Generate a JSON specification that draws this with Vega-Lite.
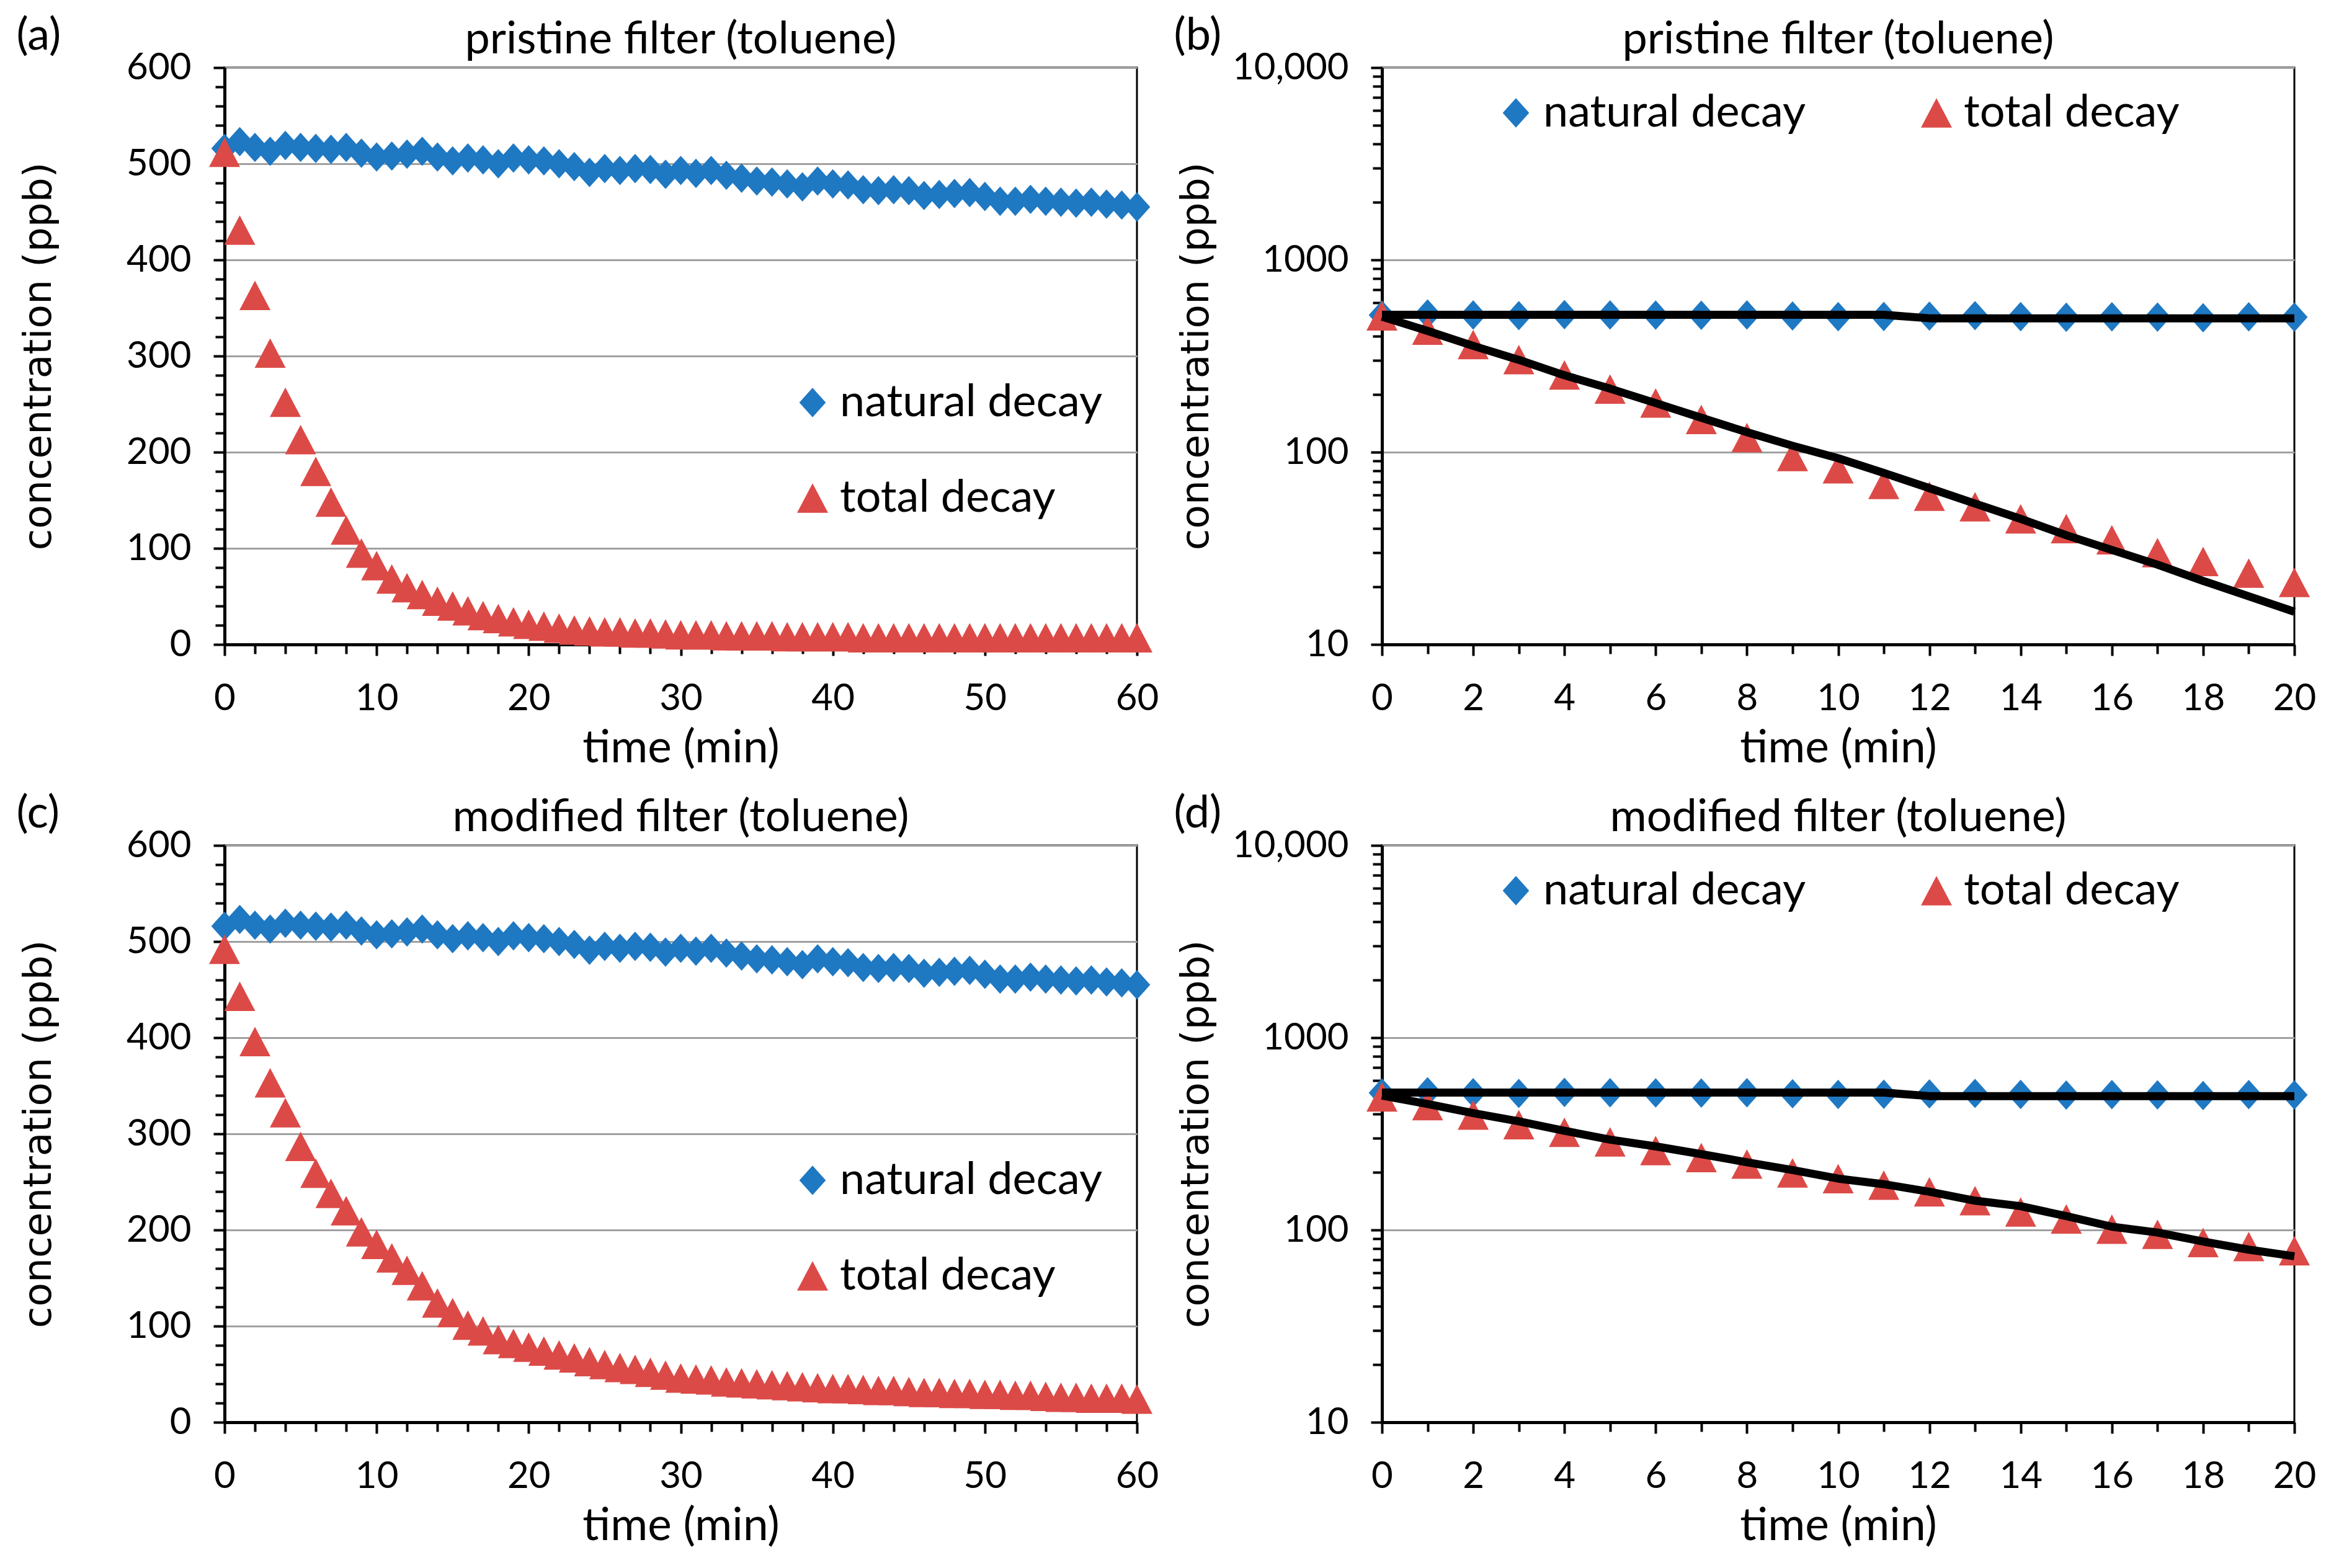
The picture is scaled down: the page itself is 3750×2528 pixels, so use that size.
{
  "$schema": "https://vega.github.io/schema/vega-lite/v6.json",
  "background": "white",
  "padding": {"left": 24, "top": 19, "right": 10, "bottom": 10},
  "datasets": {
    "pristine": [
      {"t":0,"series":"natural decay","c":516},{"t":1,"series":"natural decay","c":523},{"t":2,"series":"natural decay","c":517},{"t":3,"series":"natural decay","c":513},{"t":4,"series":"natural decay","c":519},{"t":5,"series":"natural decay","c":517},{"t":6,"series":"natural decay","c":516},{"t":7,"series":"natural decay","c":515},{"t":8,"series":"natural decay","c":517},{"t":9,"series":"natural decay","c":511},{"t":10,"series":"natural decay","c":507},{"t":11,"series":"natural decay","c":508},{"t":12,"series":"natural decay","c":510},{"t":13,"series":"natural decay","c":513},{"t":14,"series":"natural decay","c":507},{"t":15,"series":"natural decay","c":503},{"t":16,"series":"natural decay","c":506},{"t":17,"series":"natural decay","c":504},{"t":18,"series":"natural decay","c":500},{"t":19,"series":"natural decay","c":506},{"t":20,"series":"natural decay","c":504},{"t":21,"series":"natural decay","c":503},{"t":22,"series":"natural decay","c":500},{"t":23,"series":"natural decay","c":497},{"t":24,"series":"natural decay","c":491},{"t":25,"series":"natural decay","c":495},{"t":26,"series":"natural decay","c":493},{"t":27,"series":"natural decay","c":495},{"t":28,"series":"natural decay","c":494},{"t":29,"series":"natural decay","c":489},{"t":30,"series":"natural decay","c":493},{"t":31,"series":"natural decay","c":490},{"t":32,"series":"natural decay","c":493},{"t":33,"series":"natural decay","c":488},{"t":34,"series":"natural decay","c":485},{"t":35,"series":"natural decay","c":482},{"t":36,"series":"natural decay","c":481},{"t":37,"series":"natural decay","c":479},{"t":38,"series":"natural decay","c":476},{"t":39,"series":"natural decay","c":482},{"t":40,"series":"natural decay","c":479},{"t":41,"series":"natural decay","c":478},{"t":42,"series":"natural decay","c":473},{"t":43,"series":"natural decay","c":472},{"t":44,"series":"natural decay","c":473},{"t":45,"series":"natural decay","c":472},{"t":46,"series":"natural decay","c":467},{"t":47,"series":"natural decay","c":468},{"t":48,"series":"natural decay","c":469},{"t":49,"series":"natural decay","c":470},{"t":50,"series":"natural decay","c":466},{"t":51,"series":"natural decay","c":461},{"t":52,"series":"natural decay","c":461},{"t":53,"series":"natural decay","c":463},{"t":54,"series":"natural decay","c":461},{"t":55,"series":"natural decay","c":460},{"t":56,"series":"natural decay","c":459},{"t":57,"series":"natural decay","c":460},{"t":58,"series":"natural decay","c":458},{"t":59,"series":"natural decay","c":457},{"t":60,"series":"natural decay","c":455},
      {"t":0,"series":"total decay","c":512},{"t":1,"series":"total decay","c":431},{"t":2,"series":"total decay","c":363},{"t":3,"series":"total decay","c":303},{"t":4,"series":"total decay","c":252},{"t":5,"series":"total decay","c":213},{"t":6,"series":"total decay","c":180},{"t":7,"series":"total decay","c":148},{"t":8,"series":"total decay","c":119},{"t":9,"series":"total decay","c":95},{"t":10,"series":"total decay","c":82},{"t":11,"series":"total decay","c":68},{"t":12,"series":"total decay","c":59},{"t":13,"series":"total decay","c":52},{"t":14,"series":"total decay","c":45},{"t":15,"series":"total decay","c":40},{"t":16,"series":"total decay","c":35},{"t":17,"series":"total decay","c":30},{"t":18,"series":"total decay","c":27},{"t":19,"series":"total decay","c":23.5},{"t":20,"series":"total decay","c":21},{"t":21,"series":"total decay","c":19},{"t":22,"series":"total decay","c":17},{"t":23,"series":"total decay","c":15},{"t":24,"series":"total decay","c":14},{"t":25,"series":"total decay","c":13},{"t":26,"series":"total decay","c":13},{"t":27,"series":"total decay","c":12},{"t":28,"series":"total decay","c":12},{"t":29,"series":"total decay","c":11},{"t":30,"series":"total decay","c":10},{"t":31,"series":"total decay","c":10},{"t":32,"series":"total decay","c":10},{"t":33,"series":"total decay","c":9},{"t":34,"series":"total decay","c":9},{"t":35,"series":"total decay","c":9},{"t":36,"series":"total decay","c":9},{"t":37,"series":"total decay","c":8},{"t":38,"series":"total decay","c":8},{"t":39,"series":"total decay","c":8},{"t":40,"series":"total decay","c":8},{"t":41,"series":"total decay","c":8},{"t":42,"series":"total decay","c":7},{"t":43,"series":"total decay","c":7},{"t":44,"series":"total decay","c":7},{"t":45,"series":"total decay","c":7},{"t":46,"series":"total decay","c":7},{"t":47,"series":"total decay","c":7},{"t":48,"series":"total decay","c":7},{"t":49,"series":"total decay","c":7},{"t":50,"series":"total decay","c":7},{"t":51,"series":"total decay","c":7},{"t":52,"series":"total decay","c":7},{"t":53,"series":"total decay","c":7},{"t":54,"series":"total decay","c":7},{"t":55,"series":"total decay","c":7},{"t":56,"series":"total decay","c":7},{"t":57,"series":"total decay","c":7},{"t":58,"series":"total decay","c":7},{"t":59,"series":"total decay","c":7},{"t":60,"series":"total decay","c":7}
    ],
    "modified": [
      {"t":0,"series":"natural decay","c":516},{"t":1,"series":"natural decay","c":523},{"t":2,"series":"natural decay","c":517},{"t":3,"series":"natural decay","c":513},{"t":4,"series":"natural decay","c":519},{"t":5,"series":"natural decay","c":517},{"t":6,"series":"natural decay","c":516},{"t":7,"series":"natural decay","c":515},{"t":8,"series":"natural decay","c":517},{"t":9,"series":"natural decay","c":511},{"t":10,"series":"natural decay","c":507},{"t":11,"series":"natural decay","c":508},{"t":12,"series":"natural decay","c":510},{"t":13,"series":"natural decay","c":513},{"t":14,"series":"natural decay","c":507},{"t":15,"series":"natural decay","c":503},{"t":16,"series":"natural decay","c":506},{"t":17,"series":"natural decay","c":504},{"t":18,"series":"natural decay","c":500},{"t":19,"series":"natural decay","c":506},{"t":20,"series":"natural decay","c":504},{"t":21,"series":"natural decay","c":503},{"t":22,"series":"natural decay","c":500},{"t":23,"series":"natural decay","c":497},{"t":24,"series":"natural decay","c":491},{"t":25,"series":"natural decay","c":495},{"t":26,"series":"natural decay","c":493},{"t":27,"series":"natural decay","c":495},{"t":28,"series":"natural decay","c":494},{"t":29,"series":"natural decay","c":489},{"t":30,"series":"natural decay","c":493},{"t":31,"series":"natural decay","c":490},{"t":32,"series":"natural decay","c":493},{"t":33,"series":"natural decay","c":488},{"t":34,"series":"natural decay","c":485},{"t":35,"series":"natural decay","c":482},{"t":36,"series":"natural decay","c":481},{"t":37,"series":"natural decay","c":479},{"t":38,"series":"natural decay","c":476},{"t":39,"series":"natural decay","c":482},{"t":40,"series":"natural decay","c":479},{"t":41,"series":"natural decay","c":478},{"t":42,"series":"natural decay","c":473},{"t":43,"series":"natural decay","c":472},{"t":44,"series":"natural decay","c":473},{"t":45,"series":"natural decay","c":472},{"t":46,"series":"natural decay","c":467},{"t":47,"series":"natural decay","c":468},{"t":48,"series":"natural decay","c":469},{"t":49,"series":"natural decay","c":470},{"t":50,"series":"natural decay","c":466},{"t":51,"series":"natural decay","c":461},{"t":52,"series":"natural decay","c":461},{"t":53,"series":"natural decay","c":463},{"t":54,"series":"natural decay","c":461},{"t":55,"series":"natural decay","c":460},{"t":56,"series":"natural decay","c":459},{"t":57,"series":"natural decay","c":460},{"t":58,"series":"natural decay","c":458},{"t":59,"series":"natural decay","c":457},{"t":60,"series":"natural decay","c":455},
      {"t":0,"series":"total decay","c":492},{"t":1,"series":"total decay","c":443},{"t":2,"series":"total decay","c":396},{"t":3,"series":"total decay","c":353},{"t":4,"series":"total decay","c":322},{"t":5,"series":"total decay","c":287},{"t":6,"series":"total decay","c":259},{"t":7,"series":"total decay","c":238},{"t":8,"series":"total decay","c":220},{"t":9,"series":"total decay","c":198},{"t":10,"series":"total decay","c":185},{"t":11,"series":"total decay","c":171},{"t":12,"series":"total decay","c":158},{"t":13,"series":"total decay","c":142},{"t":14,"series":"total decay","c":124},{"t":15,"series":"total decay","c":114},{"t":16,"series":"total decay","c":101},{"t":17,"series":"total decay","c":95},{"t":18,"series":"total decay","c":86},{"t":19,"series":"total decay","c":82},{"t":20,"series":"total decay","c":78},{"t":21,"series":"total decay","c":74},{"t":22,"series":"total decay","c":70},{"t":23,"series":"total decay","c":67},{"t":24,"series":"total decay","c":63},{"t":25,"series":"total decay","c":60},{"t":26,"series":"total decay","c":57},{"t":27,"series":"total decay","c":55},{"t":28,"series":"total decay","c":52},{"t":29,"series":"total decay","c":49},{"t":30,"series":"total decay","c":46},{"t":31,"series":"total decay","c":45},{"t":32,"series":"total decay","c":44},{"t":33,"series":"total decay","c":42},{"t":34,"series":"total decay","c":41},{"t":35,"series":"total decay","c":40},{"t":36,"series":"total decay","c":39},{"t":37,"series":"total decay","c":38},{"t":38,"series":"total decay","c":37},{"t":39,"series":"total decay","c":36},{"t":40,"series":"total decay","c":35},{"t":41,"series":"total decay","c":35},{"t":42,"series":"total decay","c":34},{"t":43,"series":"total decay","c":33},{"t":44,"series":"total decay","c":33},{"t":45,"series":"total decay","c":32},{"t":46,"series":"total decay","c":31},{"t":47,"series":"total decay","c":31},{"t":48,"series":"total decay","c":30},{"t":49,"series":"total decay","c":30},{"t":50,"series":"total decay","c":29},{"t":51,"series":"total decay","c":29},{"t":52,"series":"total decay","c":28},{"t":53,"series":"total decay","c":28},{"t":54,"series":"total decay","c":27},{"t":55,"series":"total decay","c":26},{"t":56,"series":"total decay","c":26},{"t":57,"series":"total decay","c":25},{"t":58,"series":"total decay","c":25},{"t":59,"series":"total decay","c":25},{"t":60,"series":"total decay","c":24}
    ],
    "fitB": [
      {"t":0,"series":"nat","c":518},{"t":1,"series":"nat","c":518},{"t":2,"series":"nat","c":518},{"t":3,"series":"nat","c":518},{"t":4,"series":"nat","c":518},{"t":5,"series":"nat","c":518},{"t":6,"series":"nat","c":518},{"t":7,"series":"nat","c":518},{"t":8,"series":"nat","c":518},{"t":9,"series":"nat","c":518},{"t":10,"series":"nat","c":518},{"t":11,"series":"nat","c":518},{"t":12,"series":"nat","c":497},{"t":13,"series":"nat","c":497},{"t":14,"series":"nat","c":497},{"t":15,"series":"nat","c":497},{"t":16,"series":"nat","c":497},{"t":17,"series":"nat","c":497},{"t":18,"series":"nat","c":497},{"t":19,"series":"nat","c":497},{"t":20,"series":"nat","c":497},
      {"t":0,"series":"tot","c":507},{"t":1,"series":"tot","c":427},{"t":2,"series":"tot","c":357},{"t":3,"series":"tot","c":302},{"t":4,"series":"tot","c":251},{"t":5,"series":"tot","c":214},{"t":6,"series":"tot","c":180},{"t":7,"series":"tot","c":151},{"t":8,"series":"tot","c":127},{"t":9,"series":"tot","c":108},{"t":10,"series":"tot","c":93},{"t":11,"series":"tot","c":78},{"t":12,"series":"tot","c":65},{"t":13,"series":"tot","c":54},{"t":14,"series":"tot","c":45},{"t":15,"series":"tot","c":37},{"t":16,"series":"tot","c":31},{"t":17,"series":"tot","c":26},{"t":18,"series":"tot","c":21.4},{"t":19,"series":"tot","c":17.8},{"t":20,"series":"tot","c":14.8}
    ],
    "fitD": [
      {"t":0,"series":"nat","c":518},{"t":1,"series":"nat","c":518},{"t":2,"series":"nat","c":518},{"t":3,"series":"nat","c":518},{"t":4,"series":"nat","c":518},{"t":5,"series":"nat","c":518},{"t":6,"series":"nat","c":518},{"t":7,"series":"nat","c":518},{"t":8,"series":"nat","c":518},{"t":9,"series":"nat","c":518},{"t":10,"series":"nat","c":518},{"t":11,"series":"nat","c":518},{"t":12,"series":"nat","c":497},{"t":13,"series":"nat","c":497},{"t":14,"series":"nat","c":497},{"t":15,"series":"nat","c":497},{"t":16,"series":"nat","c":497},{"t":17,"series":"nat","c":497},{"t":18,"series":"nat","c":497},{"t":19,"series":"nat","c":497},{"t":20,"series":"nat","c":497},
      {"t":0,"series":"tot","c":500},{"t":1,"series":"tot","c":452},{"t":2,"series":"tot","c":405},{"t":3,"series":"tot","c":367},{"t":4,"series":"tot","c":328},{"t":5,"series":"tot","c":295},{"t":6,"series":"tot","c":272},{"t":7,"series":"tot","c":248},{"t":8,"series":"tot","c":225},{"t":9,"series":"tot","c":205},{"t":10,"series":"tot","c":185},{"t":11,"series":"tot","c":173},{"t":12,"series":"tot","c":158},{"t":13,"series":"tot","c":142},{"t":14,"series":"tot","c":133},{"t":15,"series":"tot","c":118},{"t":16,"series":"tot","c":104},{"t":17,"series":"tot","c":97},{"t":18,"series":"tot","c":87},{"t":19,"series":"tot","c":79},{"t":20,"series":"tot","c":73}
    ]
  },
  "spacing": 28,
  "resolve": {"scale": {"color": "independent", "shape": "independent", "size": "independent"}},
  "vconcat": [
    {
      "spacing": 20,
      "resolve": {"scale": {"color": "independent", "shape": "independent", "size": "independent"}},
      "hconcat": [
        {
          "width": 1471, "height": 930,
          "data": {"name": "pristine"},
          "layer": [
            {
              "mark": {"type": "point", "filled": true, "opacity": 1, "strokeWidth": 0},
              "encoding": {
                "x": {"field": "t", "type": "quantitative", "scale": {"domain": [0, 60], "nice": false}, "axis": {"orient": "bottom", "values": [0, 10, 20, 30, 40, 50, 60], "title": "time (min)", "grid": false}},
                "y": {"field": "c", "type": "quantitative", "scale": {"domain": [0, 600], "nice": false}, "axis": {"orient": "left", "values": [0, 100, 200, 300, 400, 500, 600], "grid": true, "title": "concentration (ppb)", "titleX": -268, "titleY": 465, "titleAngle": -90, "titleBaseline": "bottom", "titleAlign": "center"}},
                "shape": {"field": "series", "type": "nominal", "scale": {"domain": ["natural decay", "total decay"], "range": ["M0,-1L0.9,0L0,1L-0.9,0Z", "M0,-0.95L1,0.95L-1,0.95Z"]}, "legend": {"orient": "none", "legendX": 912, "legendY": 504, "direction": "vertical", "rowPadding": 82}},
                "color": {"field": "series", "type": "nominal", "scale": {"domain": ["natural decay", "total decay"], "range": ["#1F78C2", "#DC4A47"]}, "legend": {"orient": "none", "legendX": 912, "legendY": 504, "direction": "vertical", "rowPadding": 82}},
                "size": {"field": "series", "type": "ordinal", "scale": {"domain": ["natural decay", "total decay"], "range": [2250, 2500]}, "legend": null}
              }
            },
            {
              "mark": {"type": "point", "opacity": 0},
              "encoding": {
                "x": {"field": "t", "type": "quantitative", "axis": {"orient": "bottom", "values": [2,4,6,8,12,14,16,18,22,24,26,28,32,34,36,38,42,44,46,48,52,54,56,58], "labels": false, "domain": false, "grid": false, "title": null, "tickSize": 15}},
                "y": {"field": "c", "type": "quantitative", "axis": {"orient": "left", "values": [20,40,60,80,120,140,160,180,220,240,260,280,320,340,360,380,420,440,460,480,520,540,560,580], "labels": false, "domain": false, "grid": false, "title": null, "tickSize": 15}}
              }
            },
            {
              "mark": {"type": "point", "opacity": 0},
              "encoding": {
                "x": {"field": "t", "type": "quantitative", "axis": {"orient": "top", "labels": false, "ticks": false, "domain": false, "grid": false, "title": "pristine filter (toluene)", "titleX": 735, "titleY": -46, "titleAlign": "center", "titleBaseline": "middle", "titleAngle": 0, "titleFont": "Lato", "titleFontSize": 72}},
                "y": {"field": "c", "type": "quantitative", "axis": {"orient": "right", "labels": false, "ticks": false, "domain": false, "grid": false, "title": "(a)", "titleX": -1807, "titleY": -52, "titleAlign": "left", "titleBaseline": "middle", "titleAngle": 0, "titleFont": "Lato", "titleFontSize": 72}}
              }
            }
          ],
          "resolve": {"axis": {"x": "independent", "y": "independent"}}
        },
        {
          "width": 1471, "height": 930,
          "layer": [
            {
              "data": {"name": "pristine"},
              "transform": [{"filter": "datum.t <= 20"}],
              "mark": {"type": "point", "filled": true, "opacity": 1, "strokeWidth": 0},
              "encoding": {
                "x": {"field": "t", "type": "quantitative", "scale": {"domain": [0, 20], "nice": false}, "axis": {"orient": "bottom", "values": [0,2,4,6,8,10,12,14,16,18,20], "title": "time (min)", "grid": false}},
                "y": {"field": "c", "type": "quantitative", "scale": {"type": "log", "domain": [10, 10000], "nice": false}, "axis": {"orient": "left", "values": [10, 100, 1000, 10000], "labelExpr": "datum.value >= 10000 ? format(datum.value, ',') : format(datum.value, 'd')", "grid": true, "title": "concentration (ppb)", "titleX": -268, "titleY": 465, "titleAngle": -90, "titleBaseline": "bottom", "titleAlign": "center"}},
                "shape": {"field": "series", "type": "nominal", "scale": {"domain": ["natural decay", "total decay"], "range": ["M0,-1L0.9,0L0,1L-0.9,0Z", "M0,-0.95L1,0.95L-1,0.95Z"]}, "legend": {"orient": "none", "legendX": 180, "legendY": 37, "direction": "horizontal", "columns": 2, "columnPadding": 174}},
                "color": {"field": "series", "type": "nominal", "scale": {"domain": ["natural decay", "total decay"], "range": ["#1F78C2", "#DC4A47"]}, "legend": {"orient": "none", "legendX": 180, "legendY": 37, "direction": "horizontal", "columns": 2, "columnPadding": 174}},
                "size": {"field": "series", "type": "ordinal", "scale": {"domain": ["natural decay", "total decay"], "range": [2250, 2500]}, "legend": null}
              }
            },
            {
              "data": {"name": "fitB"},
              "mark": {"type": "line", "color": "black", "strokeWidth": 13, "strokeJoin": "round"},
              "encoding": {
                "x": {"field": "t", "type": "quantitative", "axis": null},
                "y": {"field": "c", "type": "quantitative", "axis": null},
                "detail": {"field": "series", "type": "nominal"}
              }
            },
            {
              "data": {"name": "fitB"},
              "mark": {"type": "point", "opacity": 0},
              "encoding": {
                "x": {"field": "t", "type": "quantitative", "axis": {"orient": "bottom", "values": [1,3,5,7,9,11,13,15,17,19], "labels": false, "domain": false, "grid": false, "title": null, "tickSize": 15}},
                "y": {"field": "c", "type": "quantitative", "axis": {"orient": "left", "values": [20,30,40,50,60,70,80,90,200,300,400,500,600,700,800,900,2000,3000,4000,5000,6000,7000,8000,9000], "labels": false, "domain": false, "grid": false, "title": null, "tickSize": 15}}
              }
            },
            {
              "data": {"name": "fitB"},
              "mark": {"type": "point", "opacity": 0},
              "encoding": {
                "x": {"field": "t", "type": "quantitative", "axis": {"orient": "top", "labels": false, "ticks": false, "domain": false, "grid": false, "title": "pristine filter (toluene)", "titleX": 735, "titleY": -46, "titleAlign": "center", "titleBaseline": "middle", "titleAngle": 0, "titleFont": "Lato", "titleFontSize": 72}},
                "y": {"field": "c", "type": "quantitative", "axis": {"orient": "right", "labels": false, "ticks": false, "domain": false, "grid": false, "title": "(b)", "titleX": -1807, "titleY": -52, "titleAlign": "left", "titleBaseline": "middle", "titleAngle": 0, "titleFont": "Lato", "titleFontSize": 72}}
              }
            }
          ],
          "resolve": {"axis": {"x": "independent", "y": "independent"}}
        }
      ]
    },
    {
      "spacing": 20,
      "resolve": {"scale": {"color": "independent", "shape": "independent", "size": "independent"}},
      "hconcat": [
        {
          "width": 1471, "height": 930,
          "data": {"name": "modified"},
          "layer": [
            {
              "mark": {"type": "point", "filled": true, "opacity": 1, "strokeWidth": 0},
              "encoding": {
                "x": {"field": "t", "type": "quantitative", "scale": {"domain": [0, 60], "nice": false}, "axis": {"orient": "bottom", "values": [0, 10, 20, 30, 40, 50, 60], "title": "time (min)", "grid": false}},
                "y": {"field": "c", "type": "quantitative", "scale": {"domain": [0, 600], "nice": false}, "axis": {"orient": "left", "values": [0, 100, 200, 300, 400, 500, 600], "grid": true, "title": "concentration (ppb)", "titleX": -268, "titleY": 465, "titleAngle": -90, "titleBaseline": "bottom", "titleAlign": "center"}},
                "shape": {"field": "series", "type": "nominal", "scale": {"domain": ["natural decay", "total decay"], "range": ["M0,-1L0.9,0L0,1L-0.9,0Z", "M0,-0.95L1,0.95L-1,0.95Z"]}, "legend": {"orient": "none", "legendX": 912, "legendY": 504, "direction": "vertical", "rowPadding": 82}},
                "color": {"field": "series", "type": "nominal", "scale": {"domain": ["natural decay", "total decay"], "range": ["#1F78C2", "#DC4A47"]}, "legend": {"orient": "none", "legendX": 912, "legendY": 504, "direction": "vertical", "rowPadding": 82}},
                "size": {"field": "series", "type": "ordinal", "scale": {"domain": ["natural decay", "total decay"], "range": [2250, 2500]}, "legend": null}
              }
            },
            {
              "mark": {"type": "point", "opacity": 0},
              "encoding": {
                "x": {"field": "t", "type": "quantitative", "axis": {"orient": "bottom", "values": [2,4,6,8,12,14,16,18,22,24,26,28,32,34,36,38,42,44,46,48,52,54,56,58], "labels": false, "domain": false, "grid": false, "title": null, "tickSize": 15}},
                "y": {"field": "c", "type": "quantitative", "axis": {"orient": "left", "values": [20,40,60,80,120,140,160,180,220,240,260,280,320,340,360,380,420,440,460,480,520,540,560,580], "labels": false, "domain": false, "grid": false, "title": null, "tickSize": 15}}
              }
            },
            {
              "mark": {"type": "point", "opacity": 0},
              "encoding": {
                "x": {"field": "t", "type": "quantitative", "axis": {"orient": "top", "labels": false, "ticks": false, "domain": false, "grid": false, "title": "modified filter (toluene)", "titleX": 735, "titleY": -46, "titleAlign": "center", "titleBaseline": "middle", "titleAngle": 0, "titleFont": "Lato", "titleFontSize": 72}},
                "y": {"field": "c", "type": "quantitative", "axis": {"orient": "right", "labels": false, "ticks": false, "domain": false, "grid": false, "title": "(c)", "titleX": -1807, "titleY": -52, "titleAlign": "left", "titleBaseline": "middle", "titleAngle": 0, "titleFont": "Lato", "titleFontSize": 72}}
              }
            }
          ],
          "resolve": {"axis": {"x": "independent", "y": "independent"}}
        },
        {
          "width": 1471, "height": 930,
          "layer": [
            {
              "data": {"name": "modified"},
              "transform": [{"filter": "datum.t <= 20"}],
              "mark": {"type": "point", "filled": true, "opacity": 1, "strokeWidth": 0},
              "encoding": {
                "x": {"field": "t", "type": "quantitative", "scale": {"domain": [0, 20], "nice": false}, "axis": {"orient": "bottom", "values": [0,2,4,6,8,10,12,14,16,18,20], "title": "time (min)", "grid": false}},
                "y": {"field": "c", "type": "quantitative", "scale": {"type": "log", "domain": [10, 10000], "nice": false}, "axis": {"orient": "left", "values": [10, 100, 1000, 10000], "labelExpr": "datum.value >= 10000 ? format(datum.value, ',') : format(datum.value, 'd')", "grid": true, "title": "concentration (ppb)", "titleX": -268, "titleY": 465, "titleAngle": -90, "titleBaseline": "bottom", "titleAlign": "center"}},
                "shape": {"field": "series", "type": "nominal", "scale": {"domain": ["natural decay", "total decay"], "range": ["M0,-1L0.9,0L0,1L-0.9,0Z", "M0,-0.95L1,0.95L-1,0.95Z"]}, "legend": {"orient": "none", "legendX": 180, "legendY": 37, "direction": "horizontal", "columns": 2, "columnPadding": 174}},
                "color": {"field": "series", "type": "nominal", "scale": {"domain": ["natural decay", "total decay"], "range": ["#1F78C2", "#DC4A47"]}, "legend": {"orient": "none", "legendX": 180, "legendY": 37, "direction": "horizontal", "columns": 2, "columnPadding": 174}},
                "size": {"field": "series", "type": "ordinal", "scale": {"domain": ["natural decay", "total decay"], "range": [2250, 2500]}, "legend": null}
              }
            },
            {
              "data": {"name": "fitD"},
              "mark": {"type": "line", "color": "black", "strokeWidth": 13, "strokeJoin": "round"},
              "encoding": {
                "x": {"field": "t", "type": "quantitative", "axis": null},
                "y": {"field": "c", "type": "quantitative", "axis": null},
                "detail": {"field": "series", "type": "nominal"}
              }
            },
            {
              "data": {"name": "fitD"},
              "mark": {"type": "point", "opacity": 0},
              "encoding": {
                "x": {"field": "t", "type": "quantitative", "axis": {"orient": "bottom", "values": [1,3,5,7,9,11,13,15,17,19], "labels": false, "domain": false, "grid": false, "title": null, "tickSize": 15}},
                "y": {"field": "c", "type": "quantitative", "axis": {"orient": "left", "values": [20,30,40,50,60,70,80,90,200,300,400,500,600,700,800,900,2000,3000,4000,5000,6000,7000,8000,9000], "labels": false, "domain": false, "grid": false, "title": null, "tickSize": 15}}
              }
            },
            {
              "data": {"name": "fitD"},
              "mark": {"type": "point", "opacity": 0},
              "encoding": {
                "x": {"field": "t", "type": "quantitative", "axis": {"orient": "top", "labels": false, "ticks": false, "domain": false, "grid": false, "title": "modified filter (toluene)", "titleX": 735, "titleY": -46, "titleAlign": "center", "titleBaseline": "middle", "titleAngle": 0, "titleFont": "Lato", "titleFontSize": 72}},
                "y": {"field": "c", "type": "quantitative", "axis": {"orient": "right", "labels": false, "ticks": false, "domain": false, "grid": false, "title": "(d)", "titleX": -1807, "titleY": -52, "titleAlign": "left", "titleBaseline": "middle", "titleAngle": 0, "titleFont": "Lato", "titleFontSize": 72}}
              }
            }
          ],
          "resolve": {"axis": {"x": "independent", "y": "independent"}}
        }
      ]
    }
  ],
  "config": {
    "font": "Lato",
    "view": {"stroke": "black", "strokeWidth": 3},
    "axis": {
      "labelFont": "Lato", "labelFontSize": 60, "labelColor": "black", "labelLimit": 500,
      "titleFont": "Lato", "titleFontSize": 73, "titleFontWeight": "normal", "titleColor": "black", "titleLimit": 3000,
      "tickColor": "black", "tickWidth": 4, "tickSize": 18,
      "domainColor": "black", "domainWidth": 5,
      "gridColor": "#A0A0A0", "gridWidth": 3,
      "labelFlush": false, "labelOverlap": false, "labelBound": false
    },
    "axisX": {"labelPadding": 40, "titlePadding": 14},
    "axisY": {"titleFont": "DejaVu Sans", "titleFontSize": 63, "labelPadding": 36},
    "legend": {
      "title": null, "labelFont": "Lato", "labelFontSize": 72, "labelColor": "black",
      "symbolSize": 2300, "symbolStrokeWidth": 0, "labelOffset": 8, "padding": 0,
      "labelLimit": 1000
    }
  }
}
